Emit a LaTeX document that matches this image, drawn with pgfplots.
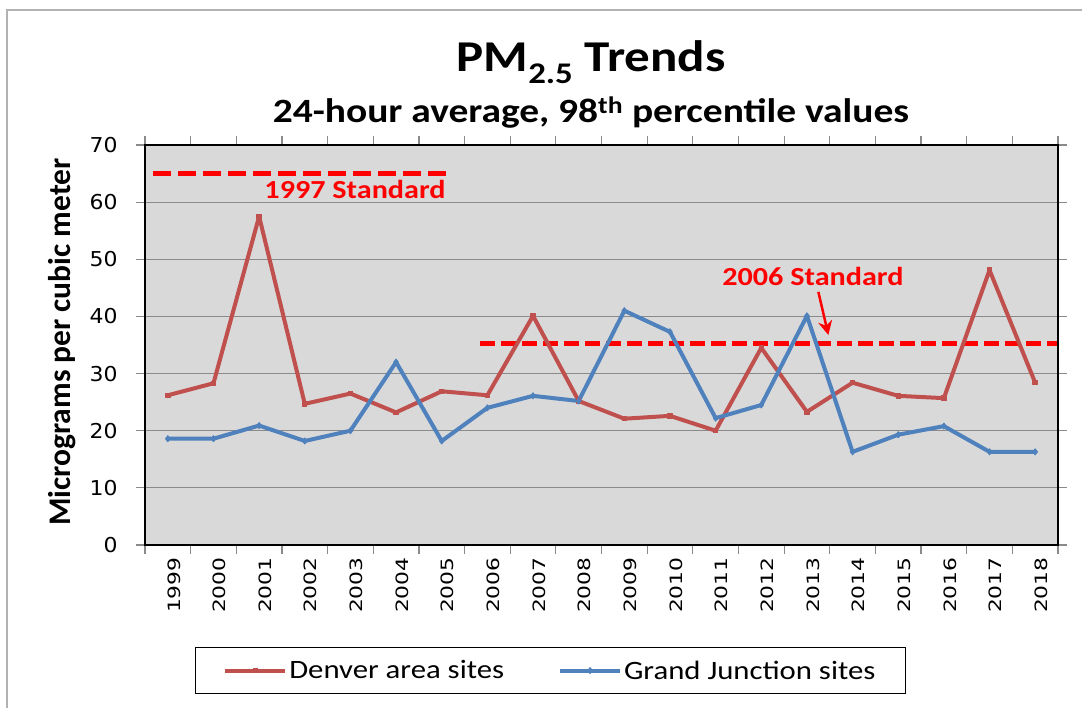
\documentclass[border=0pt]{standalone}
\usepackage{fontspec}
\setmainfont{Carlito}[FakeStretch=1.16]
\newfontfamily\carlitoplain{Carlito}
\newfontfamily\dejavuy{DejaVu Sans}[FakeStretch=1.07]
\newfontfamily\dejavux{DejaVu Sans}[FakeStretch=1.28]
\usepackage{pgfplots}
\pgfplotsset{compat=1.18}
\usetikzlibrary{arrows.meta}
\definecolor{denred}{HTML}{C0504D}
\definecolor{gjblue}{HTML}{4F81BD}
\definecolor{plotbg}{HTML}{D9D9D9}
\definecolor{gridgray}{HTML}{8A8A8A}
\begin{document}
\begin{tikzpicture}
\useasboundingbox (0pt,0pt) rectangle (1082pt,708pt);
\fill[white] (0pt,0pt) rectangle (1082pt,708pt);
\draw[gray!60, line width=1.5pt] (7pt,0pt) -- (7pt,698pt) -- (1082pt,698pt);
\node[font=\fontsize{44}{48}\selectfont\bfseries, anchor=base] at (591pt,636pt) {PM\raisebox{-12pt}{\fontsize{30}{30}\selectfont 2.5} Trends};
\node[font=\fontsize{34}{38}\selectfont\bfseries, anchor=base] at (591pt,585pt) {24-hour average, 98\textsuperscript{th} percentile values};
\node[rotate=90, font=\carlitoplain\fontsize{31.5}{33}\selectfont\bfseries] at (62pt,366pt) {Micrograms per cubic meter};
\begin{axis}[
  at={(145pt,163pt)}, anchor=south west, scale only axis,
  width=913pt, height=400pt,
  xmin=-0.5, xmax=19.5, ymin=0, ymax=70,
  ytick={0,10,...,70},
  xtick={0,...,19},
  xticklabels={1999,2000,2001,2002,2003,2004,2005,2006,2007,2008,2009,2010,2011,2012,2013,2014,2015,2016,2017,2018},
  minor xtick={-0.5,0.5,...,19.5},
  major x tick style={draw=none},
  tick align=outside,
  major tick length=9pt, minor tick length=9pt,
  tick style={gridgray, line width=1.2pt},
  axis background/.style={fill=plotbg},
  ymajorgrids,
  grid style={gridgray, line width=1.2pt},
  axis line style={black, line width=1.2pt},
  /pgf/number format/assume math mode=true,
  y tick label style={font=\dejavuy\fontsize{20.5}{21}\selectfont, xshift=-15pt},
  x tick label style={rotate=90, anchor=east, font=\dejavux\fontsize{17}{17}\selectfont, yshift=-6pt},
  legend style={at={(0.444,-0.314)}, anchor=center, legend columns=2, draw=black, line width=1.2pt,
    font=\fontsize{26.5}{28}\selectfont, inner xsep=28pt, inner ysep=11pt,
    /tikz/every even column/.append style={column sep=52pt}},
  legend image code/.code={\draw[mark repeat=2,mark phase=2,#1] plot coordinates {(0pt,0pt) (30pt,0pt) (60pt,0pt)};},
]
\addplot[red, line width=5.5pt, dash pattern=on 18pt off 7pt, forget plot] coordinates {(-0.32,65) (6.12,65)};
\addplot[red, line width=5.5pt, dash pattern=on 15pt off 6pt, forget plot] coordinates {(6.84,35.3) (19.48,35.3)};
\addplot[denred, line width=4pt, line join=round, mark=square*, mark size=2.2pt, mark options={solid, line width=1pt}] coordinates {
(0,26.2) (1,28.3) (2,57.5) (3,24.7) (4,26.5) (5,23.2) (6,26.9) (7,26.2) (8,40.1) (9,25.2)
(10,22.1) (11,22.6) (12,20.0) (13,34.5) (14,23.3) (15,28.4) (16,26.1) (17,25.7) (18,48.1) (19,28.4)};
\addlegendentry{Denver area sites}
\addplot[gjblue, line width=4pt, line join=round, mark=diamond*, mark size=3pt, mark options={solid, line width=1pt}] coordinates {
(0,18.6) (1,18.6) (2,20.9) (3,18.2) (4,20.0) (5,32.0) (6,18.2) (7,24.0) (8,26.1) (9,25.2)
(10,41.0) (11,37.3) (12,22.2) (13,24.5) (14,40.1) (15,16.3) (16,19.3) (17,20.8) (18,16.3) (19,16.3)};
\addlegendentry{Grand Junction sites}
\node[text=red, anchor=base, font=\bfseries\fontsize{26}{26}\selectfont] at (axis cs:4.10,60.7) {1997 Standard};
\node[text=red, anchor=base, font=\bfseries\fontsize{26}{26}\selectfont] at (axis cs:14.13,45.4) {2006 Standard};
\draw[red, line width=2.5pt, -{Stealth[length=14pt,width=14pt]}] (axis cs:14.25,44.3) -- (axis cs:14.47,36.75);
\end{axis}
\end{tikzpicture}
\end{document}
